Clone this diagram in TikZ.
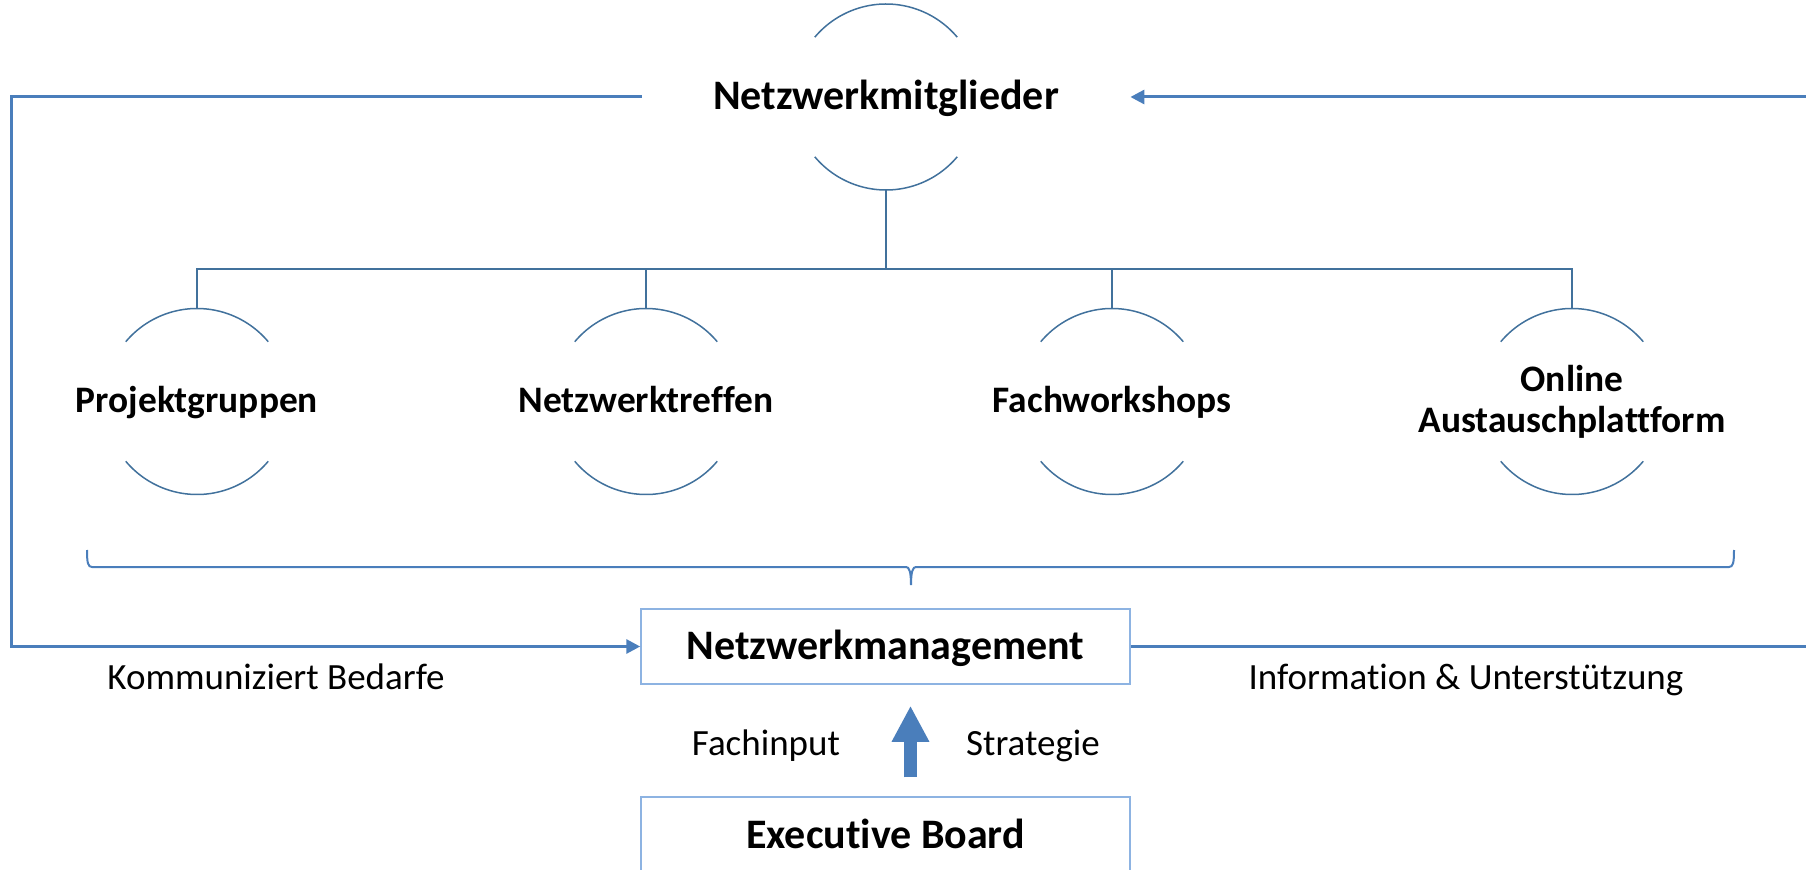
\documentclass[tikz,border=0pt]{standalone}
\usepackage{fontspec}
\setmainfont{Carlito}[Ligatures=NoCommon]
\usepackage{tikz}
\usetikzlibrary{calc}
\usetikzlibrary{arrows.meta}
\definecolor{loopblue}{RGB}{74,126,187}
\definecolor{arcblue}{RGB}{65,113,156}
\definecolor{boxblue}{RGB}{141,179,226}

\begin{document}
\begin{tikzpicture}[x=0.5pt,y=0.5pt,
	bubble/.style={rectangle,minimum width=93pt,minimum height=93pt,inner sep=0pt,align=center,font=\fontsize{18.7}{20.5}\selectfont\bfseries},
	oneline/.style={text height=11pt,text depth=0pt},
	arcline/.style={arcblue,line width=0.75pt},
	treeline/.style={arcblue,line width=0.75pt},
	loopline/.style={loopblue,line width=1.5pt},
	mgmtbox/.style={draw=boxblue,line width=0.75pt,minimum width=244.5pt,minimum height=37.5pt,inner sep=0pt,text height=13pt,text depth=0pt},
	flowlabel/.style={anchor=base,font=\fontsize{18.5}{20}\selectfont}]
	\useasboundingbox (0,0) rectangle (1806,869);
	\clip (0,0) rectangle (1806,869);
	%members
	\node[bubble,minimum width=244pt,text height=13pt,text depth=0pt,font=\fontsize{21}{23}\selectfont\bfseries] (mitglieder) at (886,772) {Netzwerkmitglieder};
	
	%formats
	\node[bubble,oneline] (projekt) at (197,467.5) {Projektgruppen};
	\node[bubble,oneline] (treffen) at (646,467.5) {Netzwerktreffen};
	\node[bubble,oneline] (workshops) at (1112,467.5) {Fachworkshops};
	\node[bubble] (online) at (1572,467.5) {Online\\Austauschplattform};
	
	%half circles
	\foreach \n in {mitglieder,projekt,treffen,workshops,online}{
		\draw[arcline] ($(\n.center)+(40:93)$) arc (40:140:93);
		\draw[arcline] ($(\n.center)+(220:93)$) arc (220:320:93);
	}
	
	%hierarchy
	\coordinate (bar) at (886,600);
	\draw[treeline] (mitglieder.south) -- (bar);
	\foreach \n in {projekt,treffen,workshops,online}
		\draw[treeline] (bar) -| (\n.north);
	
	%brace
	\draw[loopblue,line width=1pt] (87,319) .. controls (87,306) and (88,302) .. (92,302) -- (906,302)
		.. controls (909,302) and (911,298) .. (911,284) .. controls (911,298) and (913,302) .. (916,302)
		-- (1729,302) .. controls (1733,302) and (1734,306) .. (1734,319);
	
	%management
	\node[mgmtbox,font=\fontsize{21}{23}\selectfont\bfseries] (mgmt) at (885.5,222.5) {Netzwerkmanagement};
	\node[mgmtbox,text height=13.5pt,font=\fontsize{21}{23}\selectfont\bfseries] (board) at (885.5,34.5) {Executive Board};
	
	%loops
	\coordinate (leftbend) at (11,222.5);
	\coordinate (rightbend) at (1830,222.5);
	\draw[loopline,-{Triangle[length=7pt,width=7pt]}] (mitglieder.west) -| (leftbend) -- (mgmt.west);
	\draw[loopline,-{Triangle[length=7pt,width=7pt]}] (mgmt.east) -- (rightbend) |- (mitglieder.east);
	\draw[loopblue,line width=6.5pt,-{Triangle[length=18pt,width=17.5pt]},shorten <=9.5pt,shorten >=10.5pt] ([xshift=12.5pt]board.north) -- ([xshift=12.5pt]mgmt.south);
	
	%labels
	\node[flowlabel] (fachinput) at (766,114) {Fachinput};
	\node[flowlabel] (strategie) at (1033,114) {Strategie};
	\node[flowlabel] (bedarfe) at (276,180) {Kommuniziert Bedarfe};
	\node[flowlabel] (unterst) at (1466,180) {Information \& Unterstützung};
\end{tikzpicture}
\end{document}
